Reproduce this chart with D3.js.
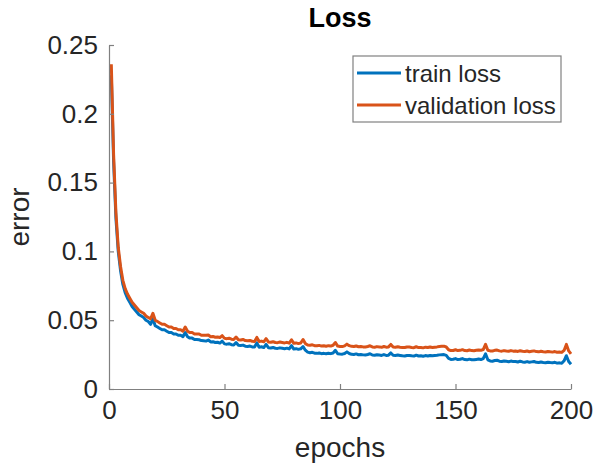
<!DOCTYPE html>
<html>
<head>
<meta charset="utf-8">
<script src="https://cdn.jsdelivr.net/npm/d3@7"></script>
<style>
  body { margin: 0; background: #fff; }
  text { font-family: "Liberation Sans", Arial, sans-serif; fill: #262626; }
</style>
</head>
<body>
<div id="chart"></div>
<script>
// loss per epoch (epochs 1..200)
const valLoss = [
  0.236, 0.170, 0.128, 0.103, 0.089, 0.079, 0.073, 0.069, 0.066, 0.063,
  0.061, 0.059, 0.057, 0.056, 0.055, 0.053, 0.052, 0.051, 0.055, 0.050,
  0.049, 0.048, 0.047, 0.047, 0.046, 0.045, 0.045, 0.044, 0.044, 0.043,
  0.043, 0.042, 0.045, 0.042, 0.041, 0.041, 0.040, 0.040, 0.040, 0.039,
  0.039, 0.039, 0.0392, 0.038, 0.0382, 0.0376, 0.0378, 0.0374, 0.0388, 0.0368,
  0.0366, 0.0369, 0.0362, 0.036, 0.0378, 0.0358, 0.0356, 0.036, 0.0352, 0.035,
  0.0353, 0.0347, 0.0346, 0.0375, 0.0345, 0.0348, 0.0343, 0.0366, 0.0342, 0.034,
  0.0344, 0.0338, 0.0337, 0.0341, 0.0338, 0.0335, 0.0339, 0.0333, 0.0358, 0.0332,
  0.0335, 0.033, 0.0334, 0.036, 0.033, 0.032, 0.0318, 0.0321, 0.0315, 0.0314,
  0.0317, 0.0312, 0.0314, 0.0311, 0.0315, 0.0312, 0.0318, 0.0338, 0.0312, 0.0309,
  0.0308, 0.0313, 0.0326, 0.0315, 0.031, 0.0309, 0.0313, 0.0307, 0.0309, 0.0306,
  0.0305, 0.0309, 0.0314, 0.0306, 0.0304, 0.0308, 0.0306, 0.0303, 0.0309, 0.0304,
  0.0306, 0.0324, 0.0305, 0.0303, 0.0307, 0.0304, 0.0302, 0.0301, 0.0305, 0.0305,
  0.0302, 0.03, 0.0307, 0.0301, 0.0302, 0.0299, 0.0304, 0.0301, 0.0305, 0.0302,
  0.0304, 0.0306, 0.0309, 0.031, 0.0311, 0.0305, 0.0285, 0.0279, 0.028, 0.0285,
  0.0279, 0.0281, 0.0286, 0.0279, 0.0278, 0.0283, 0.0279, 0.0278, 0.0281, 0.0284,
  0.0281, 0.0287, 0.0324, 0.0282, 0.0277, 0.0276, 0.0281, 0.0283, 0.0277, 0.0275,
  0.0279, 0.0276, 0.0274, 0.0279, 0.0275, 0.0276, 0.0273, 0.0278, 0.0274, 0.0272,
  0.0276, 0.0271, 0.0274, 0.0277, 0.0272, 0.027, 0.0274, 0.0271, 0.0269, 0.0273,
  0.027, 0.0268, 0.0272, 0.0267, 0.0269, 0.0266, 0.028, 0.0324, 0.0277, 0.0255
];

const trainLoss = [
  0.228, 0.165, 0.124, 0.100, 0.086, 0.076, 0.070, 0.066, 0.063, 0.060,
  0.058, 0.056, 0.054, 0.053, 0.052, 0.050, 0.049, 0.047, 0.051, 0.046,
  0.045, 0.044, 0.043, 0.043, 0.042, 0.041, 0.041, 0.040, 0.040, 0.039,
  0.039, 0.038, 0.041, 0.038, 0.037, 0.037, 0.036, 0.036, 0.0358, 0.0352,
  0.035, 0.0348, 0.0356, 0.0342, 0.0344, 0.0338, 0.034, 0.0334, 0.0348, 0.0328,
  0.0326, 0.0329, 0.0322, 0.032, 0.0338, 0.0318, 0.0316, 0.0319, 0.0311, 0.0309,
  0.0312, 0.0306, 0.0305, 0.0335, 0.0304, 0.0307, 0.0301, 0.0324, 0.03, 0.0298,
  0.0302, 0.0296, 0.0295, 0.0299, 0.0296, 0.0293, 0.0297, 0.0291, 0.0315, 0.029,
  0.0293, 0.0288, 0.0292, 0.0309, 0.0282, 0.0268, 0.0264, 0.0267, 0.026, 0.0259,
  0.0262, 0.0257, 0.0259, 0.0256, 0.026, 0.0257, 0.0262, 0.0281, 0.0256, 0.0254,
  0.0253, 0.0258, 0.027, 0.0258, 0.0252, 0.0251, 0.0255, 0.0249, 0.0251, 0.0248,
  0.0247, 0.0251, 0.0256, 0.0247, 0.0245, 0.0249, 0.0247, 0.0244, 0.025, 0.0244,
  0.0246, 0.0262, 0.0245, 0.0243, 0.0247, 0.0244, 0.0241, 0.024, 0.0244, 0.0244,
  0.0241, 0.0239, 0.0246, 0.024, 0.0241, 0.0238, 0.0243, 0.024, 0.0244, 0.0241,
  0.0243, 0.0245, 0.0248, 0.0249, 0.025, 0.0244, 0.0222, 0.0215, 0.0216, 0.0221,
  0.0214, 0.0216, 0.0221, 0.0214, 0.0212, 0.0217, 0.0213, 0.0212, 0.0215, 0.0218,
  0.0214, 0.0221, 0.0256, 0.0212, 0.0204, 0.0202, 0.0207, 0.0209, 0.0202, 0.02,
  0.0204, 0.0201, 0.0198, 0.0203, 0.0199, 0.02, 0.0196, 0.0202, 0.0197, 0.0195,
  0.0199, 0.0194, 0.0197, 0.02, 0.0194, 0.0192, 0.0196, 0.0193, 0.0191, 0.0195,
  0.0192, 0.019, 0.0194, 0.0188, 0.019, 0.0187, 0.0205, 0.0242, 0.02, 0.018
];

const xTicks = [0, 50, 100, 150, 200];
const yTicks = [0, 0.05, 0.1, 0.15, 0.2, 0.25];
const seriesNames = ["train loss", "validation loss"];
const colors = ["#0072BD", "#D95319"];

const W = 605, H = 468;
const margin = { top: 45, right: 34, bottom: 79, left: 109 };
const width = W - margin.left - margin.right;
const height = H - margin.top - margin.bottom;

const svg = d3.select("#chart")
  .append("svg")
  .attr("width", W)
  .attr("height", H)
  .append("g")
  .attr("transform", `translate(${margin.left},${margin.top})`);

const x = d3.scaleLinear().domain([0, 200]).range([0, width]);
const y = d3.scaleLinear().domain([0, 0.25]).range([height, 0]);

const line = d3.line()
  .x((d, i) => x(i + 1))
  .y(d => y(d));

// lines (validation drawn last so it sits on top)
[trainLoss, valLoss].forEach((s, k) => {
  svg.append("path")
    .datum(s)
    .attr("fill", "none")
    .attr("stroke", colors[k])
    .attr("stroke-width", 3)
    .attr("stroke-linejoin", "round")
    .attr("d", line);
});

// axes, ticks pointing inward like matlab
const xAxis = svg.append("g")
  .attr("transform", `translate(0,${height})`)
  .call(d3.axisBottom(x).tickValues(xTicks).tickSizeInner(-5).tickSizeOuter(0).tickPadding(12));

const yAxis = svg.append("g")
  .call(d3.axisLeft(y).tickValues(yTicks).tickSizeInner(-5).tickSizeOuter(0).tickPadding(11)
    .tickFormat(d => String(+d.toFixed(2))));

[xAxis, yAxis].forEach(a => {
  a.select(".domain").attr("stroke", "#808080").attr("stroke-width", 1.2);
  a.selectAll(".tick line").attr("stroke", "#808080").attr("stroke-width", 1.2);
  a.selectAll(".tick text").attr("fill", "#262626").style("font-family", '"Liberation Sans", Arial, sans-serif');
});
xAxis.selectAll(".tick text").style("font-size", "26px");
yAxis.selectAll(".tick text").style("font-size", "26px");

// title + labels
svg.append("text")
  .attr("x", width / 2)
  .attr("y", -18)
  .attr("text-anchor", "middle")
  .style("font-size", "27px")
  .style("font-weight", "bold")
  .style("fill", "#000")
  .text("Loss");

svg.append("text")
  .attr("x", width / 2)
  .attr("y", height + 68)
  .attr("text-anchor", "middle")
  .style("font-size", "28px")
  .text("epochs");

svg.append("text")
  .attr("transform", "rotate(-90)")
  .attr("x", -height / 2)
  .attr("y", -80)
  .attr("text-anchor", "middle")
  .style("font-size", "28px")
  .text("error");

// legend
const legend = svg.append("g")
  .attr("transform", `translate(${width - 218}, 11)`);

legend.append("rect")
  .attr("width", 208).attr("height", 66)
  .attr("fill", "#fff")
  .attr("stroke", "#808080")
  .attr("stroke-width", 1.2);

seriesNames.forEach((name, i) => {
  const ly = 17 + i * 32;
  legend.append("line")
    .attr("x1", 4).attr("x2", 48)
    .attr("y1", ly).attr("y2", ly)
    .attr("stroke", colors[i])
    .attr("stroke-width", 3);
  legend.append("text")
    .attr("x", 52)
    .attr("y", ly + 9)
    .style("font-size", "24px")
    .text(name);
});
</script>
</body>
</html>
